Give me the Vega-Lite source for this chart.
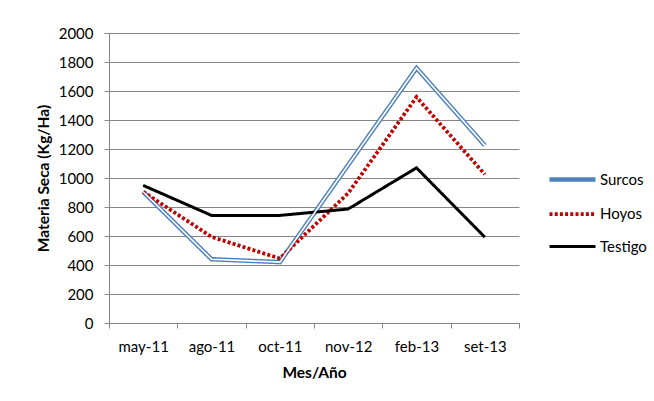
{
  "$schema": "https://vega.github.io/schema/vega-lite/v6.json",
  "width": 410,
  "height": 290,
  "autosize": {"type": "none"},
  "padding": {"left": 109, "top": 33, "right": 135, "bottom": 78},
  "background": "white",
  "config": {
    "font": "Lato",
    "view": {"stroke": null},
    "axis": {"labelFont": "Lato", "labelFontSize": 15, "labelColor": "black", "titleFont": "Lato", "titleFontSize": 15.5, "titleFontWeight": "bold", "titleColor": "black", "domainColor": "#868686", "tickColor": "#868686", "gridColor": "#868686", "gridOpacity": 1}
  },
  "data": {
    "values": [
      {"mes": "may-11", "serie": "Surcos", "valor": 905},
      {"mes": "ago-11", "serie": "Surcos", "valor": 440},
      {"mes": "oct-11", "serie": "Surcos", "valor": 420},
      {"mes": "nov-12", "serie": "Surcos", "valor": 1090},
      {"mes": "feb-13", "serie": "Surcos", "valor": 1758},
      {"mes": "set-13", "serie": "Surcos", "valor": 1225},
      {"mes": "may-11", "serie": "Hoyos", "valor": 905},
      {"mes": "ago-11", "serie": "Hoyos", "valor": 594},
      {"mes": "oct-11", "serie": "Hoyos", "valor": 445},
      {"mes": "nov-12", "serie": "Hoyos", "valor": 895},
      {"mes": "feb-13", "serie": "Hoyos", "valor": 1558},
      {"mes": "set-13", "serie": "Hoyos", "valor": 1025},
      {"mes": "may-11", "serie": "Testigo", "valor": 949},
      {"mes": "ago-11", "serie": "Testigo", "valor": 742},
      {"mes": "oct-11", "serie": "Testigo", "valor": 742},
      {"mes": "nov-12", "serie": "Testigo", "valor": 786},
      {"mes": "feb-13", "serie": "Testigo", "valor": 1070},
      {"mes": "set-13", "serie": "Testigo", "valor": 592}
    ]
  },
  "encoding": {
    "x": {
      "field": "mes", "type": "nominal",
      "sort": ["may-11", "ago-11", "oct-11", "nov-12", "feb-13", "set-13"],
      "scale": {"type": "band", "paddingInner": 0, "paddingOuter": 0},
      "axis": {"title": "Mes/Año", "labelAngle": 0, "tickBand": "extent", "tickSize": 5, "labelPadding": 11, "titlePadding": 11, "grid": false}
    },
    "y": {
      "field": "valor", "type": "quantitative",
      "scale": {"domain": [0, 2000], "nice": false},
      "axis": {"title": "Materia Seca (Kg/Ha)", "format": "d", "values": [0, 200, 400, 600, 800, 1000, 1200, 1400, 1600, 1800, 2000], "tickSize": 5, "labelPadding": 11, "titlePadding": 7, "grid": true}
    }
  },
  "layer": [
    {
      "mark": {"type": "line", "strokeCap": "butt"},
      "encoding": {
        "color": {
          "field": "serie", "type": "nominal",
          "scale": {"domain": ["Surcos", "Hoyos", "Testigo"], "range": ["#4F81BD", "#C00000", "#000000"]},
          "legend": {"title": null, "orient": "none", "legendX": 438, "legendY": 121, "symbolType": "stroke", "symbolSize": 2116, "labelFont": "Lato", "labelFontSize": 15, "labelColor": "black", "labelOffset": 2, "rowPadding": -5.5}
        },
        "strokeDash": {
          "field": "serie", "type": "nominal",
          "scale": {"domain": ["Surcos", "Hoyos", "Testigo"], "range": [[1, 0], [3, 2.2], [1, 0]]},
          "legend": null
        },
        "strokeWidth": {
          "field": "serie", "type": "nominal",
          "scale": {"domain": ["Surcos", "Hoyos", "Testigo"], "range": [4.5, 3, 3.8]},
          "legend": null
        }
      }
    },
    {
      "transform": [{"filter": "datum.serie === 'Surcos'"}],
      "mark": {"type": "line", "color": "white", "strokeWidth": 1.6}
    }
  ]
}
